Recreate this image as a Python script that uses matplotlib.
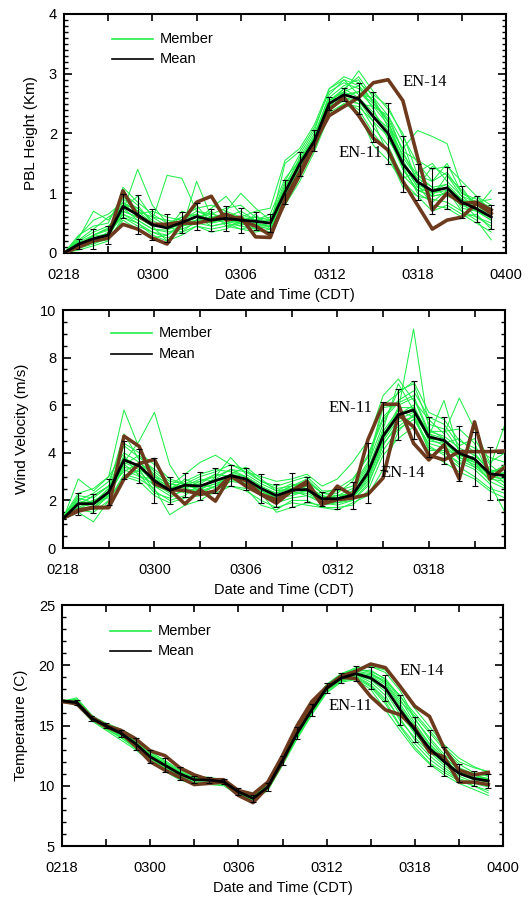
import matplotlib
matplotlib.use("Agg")
import matplotlib.pyplot as plt
from matplotlib.ticker import MultipleLocator, FixedLocator, FixedFormatter

hours = list(range(30))
tick_hours = [0, 6, 12, 18, 24, 30]
tick_labels = ["0218", "0300", "0306", "0312", "0318", "0400"]

# ---------------- PBL height (km) ----------------
pbl_mean = [0.0, 0.15, 0.24, 0.30, 0.78, 0.64, 0.47, 0.42, 0.51, 0.61, 0.55, 0.58, 0.55, 0.53, 0.50,
            1.02, 1.49, 1.88, 2.50, 2.65, 2.58, 2.28, 2.00, 1.49, 1.19, 1.04, 1.09, 0.85, 0.74, 0.60]
pbl_std = [0.0, 0.08, 0.17, 0.15, 0.20, 0.33, 0.26, 0.24, 0.18, 0.22, 0.19, 0.21, 0.21, 0.15, 0.15,
           0.20, 0.20, 0.18, 0.11, 0.11, 0.26, 0.42, 0.51, 0.47, 0.30, 0.39, 0.35, 0.27, 0.22, 0.20]
pbl_en14 = [0.0, 0.12, 0.22, 0.28, 1.04, 0.62, 0.48, 0.48, 0.52, 0.85, 0.95, 0.55, 0.60, 0.27, 0.26,
            0.90, 1.35, 1.85, 2.30, 2.45, 2.60, 2.85, 2.90, 2.55, 1.60, 0.72, 1.00, 0.83, 0.85, 0.72]
pbl_en11 = [0.0, 0.10, 0.20, 0.25, 0.48, 0.40, 0.25, 0.15, 0.50, 0.50, 0.55, 0.65, 0.55, 0.45, 0.30,
            0.85, 1.30, 1.80, 2.40, 2.60, 2.30, 1.92, 1.72, 1.20, 0.80, 0.40, 0.55, 0.60, 0.83, 0.66]
pbl_members = [
    [0, 0.10, 0.20, 0.28, 0.95, 0.70, 0.50, 0.45, 0.55, 0.70, 0.60, 0.55, 0.50, 0.48, 0.45, 1.10, 1.60, 2.00, 2.60, 2.80, 2.90, 2.50, 2.20, 1.60, 1.25, 1.10, 1.15, 0.90, 0.75, 0.62],
    [0, 0.20, 0.35, 0.45, 0.70, 1.40, 0.80, 0.50, 0.45, 0.55, 0.50, 0.65, 0.60, 0.55, 0.60, 0.95, 1.40, 1.80, 2.45, 2.55, 2.40, 2.00, 1.70, 1.30, 1.05, 0.95, 1.00, 0.80, 0.70, 0.55],
    [0, 0.15, 0.25, 0.30, 0.65, 0.55, 0.40, 0.35, 0.40, 1.20, 0.60, 0.55, 0.45, 0.40, 0.45, 1.50, 1.70, 2.10, 2.70, 2.85, 2.75, 2.55, 2.20, 1.40, 1.05, 0.95, 1.30, 0.95, 0.85, 0.65],
    [0, 0.25, 0.70, 0.55, 0.90, 0.75, 0.55, 1.30, 1.25, 0.70, 0.65, 0.60, 0.50, 0.45, 0.50, 0.90, 1.30, 1.75, 2.40, 2.60, 2.70, 2.45, 2.15, 1.75, 2.05, 1.95, 1.83, 1.10, 0.75, 0.60],
    [0, 0.12, 0.30, 0.40, 0.85, 0.60, 0.45, 0.20, 0.45, 0.55, 0.75, 0.95, 0.65, 0.55, 0.50, 1.00, 1.55, 1.95, 2.55, 2.70, 3.05, 2.70, 2.40, 2.00, 1.30, 1.10, 0.95, 0.85, 0.60, 0.45],
    [0, 0.18, 0.22, 0.35, 0.60, 0.45, 0.35, 0.25, 0.35, 0.45, 0.40, 0.45, 0.40, 0.45, 0.40, 0.85, 1.35, 1.75, 2.35, 2.50, 2.35, 1.80, 1.55, 1.20, 0.95, 0.90, 0.85, 0.70, 0.55, 0.22],
    [0, 0.08, 0.15, 0.25, 1.10, 0.85, 0.65, 0.50, 0.60, 0.65, 0.55, 0.70, 1.00, 0.75, 0.55, 1.20, 1.65, 2.05, 2.75, 2.95, 2.85, 2.65, 2.45, 1.95, 1.50, 1.20, 1.35, 1.00, 0.90, 0.75],
    [0, 0.22, 0.40, 0.60, 0.75, 0.95, 0.60, 0.55, 0.50, 0.60, 0.45, 0.50, 0.55, 0.60, 0.55, 1.05, 1.50, 1.90, 2.50, 2.75, 2.60, 2.35, 2.05, 1.45, 1.00, 0.85, 1.05, 0.70, 0.60, 0.50],
    [0, 0.10, 0.18, 0.22, 0.55, 0.40, 0.25, 0.30, 0.50, 0.55, 0.70, 0.45, 0.50, 0.50, 0.45, 0.95, 1.45, 1.85, 2.45, 2.60, 2.50, 2.10, 1.80, 1.25, 1.35, 1.50, 1.20, 0.95, 0.75, 1.05],
    [0, 0.15, 0.28, 0.32, 0.80, 0.65, 0.70, 0.60, 0.55, 0.80, 0.50, 0.60, 0.70, 0.55, 0.65, 1.25, 1.55, 1.95, 2.65, 2.90, 2.80, 2.40, 1.90, 1.50, 1.10, 1.45, 1.30, 1.05, 0.80, 0.70],
    [0, 0.05, 0.12, 0.20, 0.60, 0.50, 0.30, 0.20, 0.30, 0.45, 0.35, 0.40, 0.55, 0.40, 0.35, 0.80, 1.20, 1.70, 2.30, 2.50, 2.45, 2.20, 1.65, 1.10, 0.95, 0.70, 0.80, 0.65, 0.50, 0.35],
    [0, 0.30, 0.45, 0.50, 1.00, 0.80, 0.50, 0.40, 0.70, 0.60, 0.65, 0.75, 0.80, 0.60, 0.50, 1.15, 1.55, 1.95, 2.55, 2.70, 2.55, 2.30, 2.10, 1.55, 1.15, 1.00, 1.10, 0.90, 0.80, 0.60],
    [0, 0.12, 0.25, 0.30, 0.70, 0.60, 0.45, 0.50, 0.40, 0.50, 0.60, 0.50, 0.45, 0.65, 0.40, 1.00, 1.50, 1.90, 2.50, 2.65, 2.70, 2.50, 2.25, 1.70, 1.20, 0.95, 1.00, 0.80, 0.95, 0.80],
    [0, 0.18, 0.30, 0.38, 0.75, 0.55, 0.40, 0.38, 0.50, 0.60, 0.55, 0.58, 0.48, 0.50, 0.55, 1.00, 1.45, 1.85, 2.50, 2.60, 2.55, 2.20, 1.95, 1.40, 1.05, 1.05, 1.15, 0.75, 0.70, 0.55],
    [0, 0.28, 0.55, 0.65, 0.85, 0.70, 0.60, 0.45, 0.60, 0.75, 0.80, 0.70, 0.60, 0.70, 0.75, 1.55, 1.75, 2.15, 2.75, 2.90, 2.65, 2.60, 2.30, 1.70, 1.55, 1.40, 1.45, 1.20, 0.95, 0.70],
    [0, 0.14, 0.24, 0.30, 0.65, 0.50, 0.35, 0.30, 0.45, 0.50, 0.45, 0.50, 0.40, 0.35, 0.40, 0.90, 1.40, 1.80, 2.40, 2.55, 2.50, 2.45, 2.30, 1.85, 1.15, 0.80, 0.75, 0.60, 0.65, 0.40],
    [0, 0.10, 0.30, 0.42, 0.80, 0.75, 0.55, 0.40, 0.55, 0.65, 0.50, 0.55, 0.60, 0.50, 0.55, 1.10, 1.50, 1.95, 2.55, 2.75, 2.95, 2.60, 2.10, 1.65, 1.30, 1.20, 1.50, 1.00, 0.85, 0.90],
    [0, 0.16, 0.20, 0.26, 0.70, 0.60, 0.50, 0.45, 0.35, 0.55, 0.60, 0.65, 0.55, 0.45, 0.45, 0.95, 1.45, 1.85, 2.45, 2.70, 2.80, 2.55, 2.20, 1.50, 1.10, 1.00, 1.05, 0.90, 0.70, 0.60],
]

# ---------------- Wind velocity (m/s) ----------------
wind_mean = [1.23, 1.86, 1.86, 2.35, 3.70, 3.45, 2.83, 2.42, 2.64, 2.60, 2.83, 3.04, 2.90, 2.50, 2.20,
             2.43, 2.46, 2.07, 2.07, 2.22, 3.16, 4.70, 5.60, 5.80, 4.67, 4.52, 3.98, 3.74, 3.12, 3.04]
wind_std = [0.0, 0.47, 0.41, 0.56, 0.78, 0.72, 0.96, 0.57, 0.50, 0.60, 0.54, 0.44, 0.46, 0.60, 0.47,
            0.71, 0.53, 0.29, 0.42, 0.57, 1.25, 1.43, 1.07, 1.20, 0.83, 0.98, 1.16, 1.14, 1.12, 0.0]
wind_en11 = [1.25, 1.55, 1.70, 1.70, 2.90, 3.55, 3.72, 2.45, 2.42, 2.25, 2.40, 3.04, 2.83, 2.25, 2.03,
             2.40, 2.70, 1.80, 2.60, 2.20, 4.54, 6.04, 6.04, 4.40, 3.70, 4.33, 2.90, 5.30, 2.90, 3.40]
wind_en14 = [1.25, 1.60, 1.70, 1.70, 4.70, 4.27, 2.70, 2.45, 1.85, 2.45, 1.97, 3.04, 2.60, 2.25, 1.88,
             2.40, 2.80, 1.85, 2.03, 2.10, 2.25, 2.94, 5.60, 5.10, 3.90, 3.70, 4.05, 4.05, 4.05, 4.08]
wind_members = [
    [1.2, 2.9, 2.4, 3.0, 5.8, 4.2, 3.0, 2.5, 2.8, 3.1, 3.3, 3.2, 3.0, 2.6, 2.3, 2.6, 2.7, 2.1, 2.2, 2.5, 3.5, 5.2, 6.6, 6.9, 5.2, 5.0, 4.1, 3.6, 3.2, 3.3],
    [1.3, 1.8, 2.2, 2.6, 3.6, 4.5, 5.7, 3.5, 2.5, 2.3, 2.6, 3.1, 3.4, 2.9, 2.4, 2.7, 2.5, 2.2, 2.0, 2.4, 3.0, 4.9, 5.8, 9.2, 5.0, 4.6, 3.7, 3.4, 2.9, 2.8],
    [1.2, 1.5, 1.1, 2.0, 3.1, 2.9, 2.5, 1.4, 1.8, 2.0, 2.4, 2.8, 2.9, 2.3, 1.5, 1.7, 1.9, 1.8, 1.9, 2.0, 2.6, 4.3, 5.3, 5.5, 4.2, 4.0, 3.6, 3.3, 2.7, 1.5],
    [1.3, 2.3, 2.5, 3.0, 4.0, 3.6, 3.1, 2.6, 3.1, 3.6, 3.9, 3.5, 3.2, 3.0, 2.8, 2.9, 3.1, 2.6, 2.9, 3.6, 4.5, 6.4, 7.1, 6.2, 5.4, 4.8, 6.3, 5.0, 3.6, 4.0],
    [1.2, 1.7, 1.6, 2.2, 3.4, 3.2, 2.6, 2.2, 2.4, 2.3, 2.6, 2.9, 2.7, 2.2, 1.9, 2.1, 2.2, 1.9, 1.8, 2.0, 2.7, 4.1, 5.0, 5.4, 4.4, 4.2, 3.8, 3.6, 2.8, 2.5],
    [1.2, 2.1, 1.9, 2.5, 4.3, 3.8, 3.3, 2.8, 2.7, 2.4, 3.0, 3.8, 3.1, 2.7, 2.4, 2.5, 2.8, 2.3, 2.3, 2.8, 3.9, 5.5, 6.2, 6.6, 5.5, 5.2, 4.3, 4.6, 3.5, 3.0],
    [1.3, 1.6, 2.0, 2.1, 2.9, 3.3, 2.4, 2.0, 2.2, 2.7, 2.5, 2.6, 2.5, 1.8, 1.6, 2.0, 2.0, 1.7, 1.6, 1.9, 2.2, 3.3, 4.9, 5.6, 4.3, 3.9, 3.4, 3.0, 2.5, 2.3],
    [1.2, 2.0, 1.8, 2.4, 3.9, 3.0, 2.7, 2.4, 2.9, 2.6, 2.9, 3.3, 3.0, 2.6, 2.0, 2.4, 2.6, 2.2, 2.1, 2.4, 3.4, 5.9, 6.0, 6.3, 4.8, 4.4, 4.6, 4.0, 3.2, 3.4],
    [1.2, 1.9, 1.7, 2.3, 3.3, 3.0, 2.9, 2.6, 2.3, 2.5, 2.7, 3.0, 2.8, 2.4, 2.1, 2.2, 2.4, 2.0, 2.1, 2.2, 3.1, 4.6, 5.5, 5.9, 4.5, 4.4, 3.9, 3.7, 3.0, 2.9],
    [1.3, 1.7, 2.0, 2.3, 3.7, 3.4, 2.7, 2.3, 2.6, 2.9, 2.8, 3.1, 3.0, 2.3, 2.2, 2.4, 2.2, 2.0, 2.0, 2.1, 2.9, 4.5, 5.4, 5.7, 4.6, 4.3, 3.8, 3.5, 2.9, 3.2],
    [1.2, 1.8, 2.2, 2.6, 4.8, 3.7, 2.6, 2.4, 2.7, 2.8, 3.0, 3.3, 3.2, 2.8, 2.5, 2.6, 2.9, 2.3, 2.2, 2.3, 3.3, 5.0, 6.9, 5.8, 4.9, 4.7, 4.2, 3.9, 3.3, 3.1],
    [1.2, 1.6, 1.7, 2.2, 3.5, 3.1, 2.3, 2.1, 2.5, 2.4, 2.6, 2.8, 2.7, 2.4, 2.1, 2.3, 2.3, 2.0, 1.9, 2.1, 2.8, 4.4, 5.1, 5.6, 4.1, 4.1, 3.5, 3.9, 3.3, 2.7],
    [1.3, 2.2, 2.1, 2.6, 3.2, 3.6, 3.0, 2.7, 2.6, 2.7, 3.1, 3.0, 2.6, 2.5, 2.3, 2.5, 2.4, 2.1, 2.2, 2.3, 3.0, 4.8, 5.6, 6.0, 4.7, 6.2, 4.0, 3.4, 3.4, 5.2],
    [1.2, 1.9, 1.8, 2.3, 3.8, 3.4, 2.8, 2.5, 2.6, 2.6, 2.8, 3.0, 2.9, 2.4, 2.1, 2.4, 2.5, 2.1, 2.1, 2.2, 3.1, 4.7, 5.9, 5.9, 4.6, 4.5, 3.9, 3.6, 3.0, 2.9],
    [1.2, 2.0, 2.3, 2.8, 4.4, 4.0, 3.5, 2.9, 2.7, 3.0, 3.2, 3.5, 3.3, 2.8, 2.6, 2.8, 3.0, 2.4, 2.4, 2.6, 3.6, 6.0, 6.5, 7.0, 5.7, 5.4, 4.5, 4.2, 3.8, 3.6],
    [1.2, 1.6, 1.5, 2.0, 3.0, 2.8, 2.2, 1.9, 2.1, 2.2, 2.3, 2.6, 2.4, 2.0, 1.7, 1.9, 1.8, 1.7, 1.7, 1.8, 2.4, 3.9, 4.6, 5.1, 4.0, 3.6, 3.2, 2.9, 2.4, 2.1],
    [1.3, 2.1, 1.9, 2.5, 3.5, 3.9, 3.2, 2.7, 2.5, 2.8, 3.1, 3.0, 2.7, 2.5, 2.3, 2.6, 2.8, 2.3, 2.5, 2.9, 3.8, 5.4, 6.1, 6.4, 4.9, 4.9, 5.0, 4.4, 3.0, 2.6],
    [1.2, 1.8, 2.0, 2.2, 3.6, 3.3, 2.9, 2.4, 2.6, 2.5, 2.7, 2.9, 2.8, 2.5, 2.2, 2.3, 2.4, 2.0, 2.0, 2.1, 3.0, 4.6, 5.8, 5.5, 4.8, 4.6, 3.9, 3.7, 3.1, 3.5],
]

# ---------------- Temperature (C) ----------------
temp_mean = [17.05, 16.9, 15.6, 14.97, 14.36, 13.5, 12.4, 11.7, 11.0, 10.5, 10.47, 10.33, 9.5, 8.95, 9.9,
             12.1, 14.36, 16.3, 18.1, 18.94, 19.3, 18.94, 18.1, 16.3, 14.64, 13.1, 12.0, 11.03, 10.6, 10.4]
temp_std = [0.0, 0.2, 0.2, 0.2, 0.3, 0.5, 0.55, 0.6, 0.55, 0.3, 0.25, 0.2, 0.3, 0.3, 0.3,
            0.4, 0.5, 0.5, 0.4, 0.4, 0.6, 0.9, 1.1, 1.25, 1.05, 1.5, 1.2, 0.75, 0.6, 0.55]
temp_en14 = [17.0, 16.9, 15.7, 15.0, 14.6, 13.9, 12.9, 12.5, 11.5, 10.9, 10.5, 10.5, 9.6, 9.3, 10.3,
             12.5, 15.0, 17.0, 18.2, 19.1, 19.5, 20.1, 19.8, 18.25, 16.6, 15.75, 13.1, 11.3, 10.9, 11.1]
temp_en11 = [17.0, 16.8, 15.6, 14.9, 14.4, 13.3, 12.0, 11.3, 10.7, 10.1, 10.2, 10.3, 9.2, 8.6, 9.9,
             12.0, 14.6, 16.7, 18.1, 19.0, 18.9, 17.4, 16.3, 15.9, 14.8, 12.8, 12.4, 10.3, 10.3, 10.1]
temp_members = [
    [17.0, 17.2, 15.8, 15.1, 14.6, 13.8, 12.8, 12.1, 11.3, 10.8, 10.7, 10.5, 9.6, 9.1, 10.1, 12.4, 14.7, 16.6, 18.4, 19.3, 19.7, 19.5, 18.9, 17.4, 16.0, 14.6, 13.2, 12.0, 11.5, 11.2],
    [17.1, 16.8, 15.5, 14.8, 14.0, 13.1, 12.0, 11.3, 10.7, 10.2, 10.2, 10.1, 9.3, 8.8, 9.7, 11.8, 14.0, 16.0, 17.8, 18.7, 19.0, 18.3, 17.0, 15.0, 13.5, 12.2, 11.3, 10.5, 10.0, 9.6],
    [17.0, 17.3, 15.9, 15.0, 14.4, 13.6, 12.5, 11.8, 11.1, 10.6, 10.6, 10.4, 9.5, 9.0, 10.0, 12.2, 14.5, 16.4, 18.2, 19.1, 19.6, 19.9, 19.4, 17.9, 15.6, 13.8, 12.4, 11.3, 10.9, 10.6],
    [17.0, 16.9, 15.6, 14.9, 14.1, 13.3, 12.3, 11.6, 10.9, 10.4, 10.5, 10.3, 9.4, 8.9, 9.8, 11.9, 14.2, 16.2, 18.0, 18.8, 19.2, 18.6, 17.5, 15.4, 14.0, 12.8, 11.7, 10.8, 10.3, 10.0],
    [17.1, 17.0, 15.7, 15.0, 14.5, 13.7, 12.6, 11.9, 11.1, 10.5, 10.4, 10.3, 9.5, 9.0, 9.9, 12.1, 14.4, 16.4, 18.2, 19.0, 19.5, 19.6, 18.8, 17.2, 15.2, 13.5, 12.3, 11.4, 10.9, 10.5],
    [17.0, 16.7, 15.4, 14.6, 13.8, 13.0, 12.0, 11.2, 10.5, 10.1, 10.1, 10.0, 9.2, 8.8, 9.6, 11.7, 13.9, 15.9, 17.7, 18.6, 18.8, 18.0, 16.3, 14.6, 13.0, 11.8, 10.9, 10.2, 9.7, 9.2],
    [17.0, 17.1, 15.8, 15.2, 14.7, 14.0, 12.9, 12.0, 11.2, 10.7, 10.6, 10.4, 9.6, 9.0, 10.1, 12.3, 14.6, 16.5, 18.3, 19.2, 19.7, 19.4, 18.5, 16.8, 15.0, 13.4, 12.1, 11.1, 10.7, 10.5],
    [17.0, 16.9, 15.5, 14.9, 14.3, 13.4, 12.3, 11.6, 10.9, 10.4, 10.4, 10.3, 9.5, 9.0, 9.9, 12.0, 14.3, 16.2, 18.0, 18.9, 19.3, 19.0, 18.2, 16.2, 14.3, 12.9, 11.9, 11.0, 10.7, 10.6],
    [17.1, 17.0, 15.7, 15.1, 14.2, 13.5, 12.6, 11.8, 11.0, 10.5, 10.5, 10.4, 9.6, 9.1, 10.0, 12.2, 14.5, 16.3, 18.2, 19.0, 19.4, 19.2, 18.6, 17.0, 15.8, 14.4, 13.0, 11.8, 11.1, 10.8],
    [17.0, 16.8, 15.6, 14.8, 14.2, 13.2, 12.2, 11.5, 10.8, 10.3, 10.3, 10.2, 9.4, 8.9, 9.8, 11.9, 14.1, 16.1, 17.9, 18.8, 19.1, 18.4, 17.2, 15.6, 13.8, 12.5, 11.5, 10.6, 10.2, 9.9],
    [17.0, 17.0, 15.7, 15.0, 14.4, 13.6, 12.4, 11.7, 11.0, 10.6, 10.5, 10.4, 9.5, 8.9, 9.9, 12.1, 14.4, 16.3, 18.1, 19.0, 19.3, 19.1, 18.4, 16.6, 14.8, 13.2, 12.1, 11.2, 10.7, 10.3],
    [17.0, 16.9, 15.6, 14.9, 14.3, 13.4, 12.4, 11.7, 11.0, 10.5, 10.5, 10.3, 9.5, 9.0, 9.9, 12.0, 14.3, 16.3, 18.1, 18.9, 19.2, 18.8, 17.8, 15.9, 14.4, 13.0, 11.9, 11.0, 10.5, 10.3],
    [17.1, 17.1, 15.8, 15.1, 14.5, 13.8, 12.7, 11.9, 11.2, 10.6, 10.6, 10.5, 9.6, 9.1, 10.0, 12.3, 14.6, 16.6, 18.4, 19.3, 19.8, 19.9, 19.6, 18.2, 16.4, 14.9, 13.4, 12.3, 11.6, 11.1],
    [17.0, 16.8, 15.5, 14.7, 14.0, 13.2, 12.1, 11.4, 10.6, 10.2, 10.3, 10.2, 9.3, 8.8, 9.7, 11.8, 14.1, 16.1, 17.9, 18.7, 18.9, 18.2, 16.8, 14.9, 13.2, 11.9, 11.1, 10.4, 10.0, 9.4],
    [17.0, 17.0, 15.6, 15.0, 14.4, 13.5, 12.5, 11.8, 11.0, 10.6, 10.5, 10.4, 9.5, 9.0, 9.9, 12.1, 14.4, 16.4, 18.2, 19.1, 19.5, 19.3, 18.7, 17.5, 15.5, 14.0, 12.6, 11.5, 11.0, 10.8],
]

GREEN = "#22ee4a"
BROWN = "#6e3a1e"
SANS = ["Liberation Sans", "DejaVu Sans"]
SERIF = ["Liberation Serif", "DejaVu Serif"]
FS = 10.5

plt.rcParams["font.family"] = SANS

fig = plt.figure(figsize=(5.30, 8.97), dpi=100)

panels = [
    dict(pos=[64/530, 1-253/897, 442/530, 239/897], members=pbl_members, mean=pbl_mean, std=pbl_std,
         en11=pbl_en11, en14=pbl_en14, ylim=(0, 4), ymaj=1, ymin=0.1, xlim=(0, 30),
         ylabel="PBL Height (Km)", en14_pos=(24.5, 2.86), en11_pos=(20.1, 1.67), leg_y=(0.895, 0.812)),
    dict(pos=[63/530, 1-548/897, 442/530, 238/897], members=wind_members, mean=wind_mean, std=wind_std,
         en11=wind_en11, en14=wind_en14, ylim=(0, 10), ymaj=2, ymin=0.5, xlim=(0, 29),
         ylabel="Wind Velocity (m/s)", en14_pos=(22.3, 3.17), en11_pos=(18.85, 5.87), leg_y=(0.903, 0.815)),
    dict(pos=[62/530, 1-846/897, 441/530, 241/897], members=temp_members, mean=temp_mean, std=temp_std,
         en11=temp_en11, en14=temp_en14, ylim=(5, 25), ymaj=5, ymin=1, xlim=(0, 30),
         ylabel="Temperature (C)", en14_pos=(24.5, 19.5), en11_pos=(19.6, 16.6), leg_y=(0.892, 0.81)),
]

for p in panels:
    ax = fig.add_axes(p["pos"])
    for m in p["members"]:
        ax.plot(hours, m, color=GREEN, lw=0.75, zorder=2)
    ax.plot(hours, p["en14"], color=BROWN, lw=2.6, zorder=3)
    ax.plot(hours, p["en11"], color=BROWN, lw=2.6, zorder=3)
    ax.errorbar(hours, p["mean"], yerr=p["std"], fmt="none", ecolor="black", elinewidth=0.8,
                capsize=2, capthick=0.8, zorder=4)
    ax.plot(hours, p["mean"], color="black", lw=2.0, zorder=5)

    ax.set_xlim(*p["xlim"])
    ax.set_ylim(*p["ylim"])
    ax.xaxis.set_major_locator(FixedLocator(tick_hours))
    ax.xaxis.set_major_formatter(FixedFormatter(tick_labels))
    ax.xaxis.set_minor_locator(MultipleLocator(3))
    ax.yaxis.set_major_locator(MultipleLocator(p["ymaj"]))
    ax.yaxis.set_minor_locator(MultipleLocator(p["ymin"]))
    ax.tick_params(which="both", direction="in", top=True, right=True, labelsize=FS)
    ax.tick_params(axis="x", which="both", length=5, width=1.2, pad=11)
    ax.tick_params(axis="y", which="major", length=6, width=1.2, pad=5)
    ax.tick_params(axis="y", which="minor", length=3, width=1.0)
    for s in ax.spines.values():
        s.set_linewidth(1.5)
    ax.set_xlabel("Date and Time (CDT)", fontsize=FS, labelpad=4)
    ax.set_ylabel(p["ylabel"], fontsize=11, labelpad=8)

    ax.text(*p["en14_pos"], "EN-14", family=SERIF, fontsize=12, ha="center", va="center", zorder=6)
    ax.text(*p["en11_pos"], "EN-11", family=SERIF, fontsize=12, ha="center", va="center", zorder=6)

    y1, y2 = p["leg_y"]
    ax.plot([0.109, 0.201], [y1, y1], color=GREEN, lw=1.2, transform=ax.transAxes)
    ax.plot([0.109, 0.201], [y2, y2], color="black", lw=1.2, transform=ax.transAxes)
    ax.text(0.217, y1, "Member", transform=ax.transAxes, fontsize=FS, va="center", ha="left")
    ax.text(0.217, y2, "Mean", transform=ax.transAxes, fontsize=FS, va="center", ha="left")

fig.savefig("out.png", dpi=100)
